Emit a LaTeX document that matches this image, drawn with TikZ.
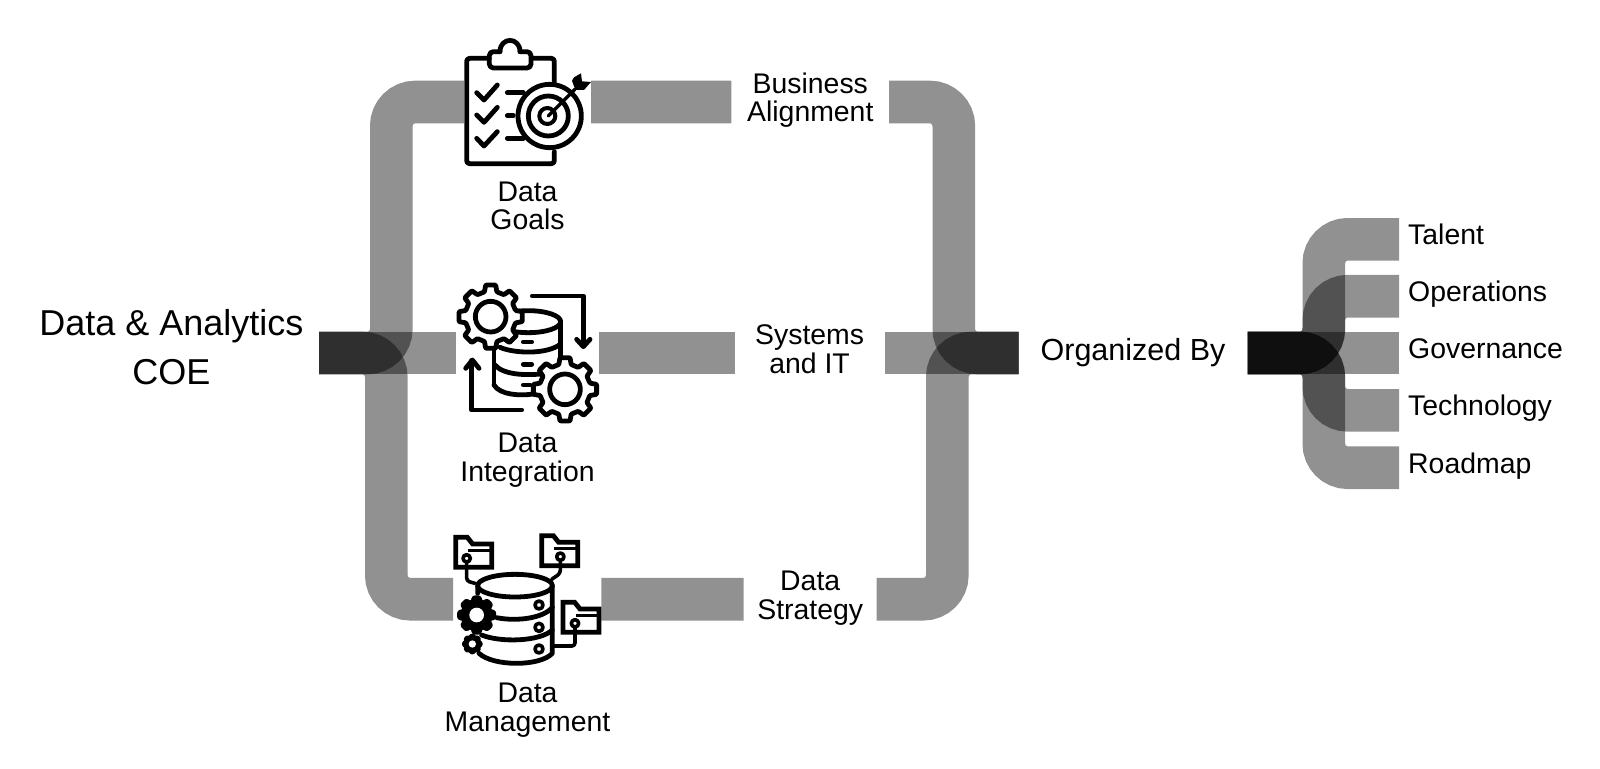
\documentclass[tikz,border=0pt]{standalone}
\usepackage{fontspec}
\setmainfont{Liberation Sans}
\tikzset{
	band/.style={line width=42.6pt,draw=black,draw opacity=.43,rounded corners=24pt},
	gapbox/.style={inner sep=0pt,minimum height=42.6pt},
	lbl/.style={inner sep=0pt,align=center,font=\fontsize{28.4}{28.6}\selectfont},
	biglbl/.style={inner sep=0pt,align=center,font=\fontsize{36}{49}\selectfont},
	sidelbl/.style={anchor=west,inner xsep=9pt,inner ysep=0pt,text height=20pt,text depth=9pt,font=\fontsize{28.4}{28.6}\selectfont},
	iconline/.style={line width=4.8pt,line cap=round,line join=round},
	zoomed/.style={x=.33333pt,y=-.33333pt},
}
\newcommand{\gearicon}[4]{%
	\begin{scope}[shift={(#1,#2)}]
	\draw[iconline,fill=#4,rounded corners=.8pt] (-14:#3*.8) \foreach \a in {0,45,...,315}{ -- (\a-14:#3*.8) -- (\a-9:#3) -- (\a+9:#3) -- (\a+14:#3*.8)} -- cycle;
	\end{scope}}
\newcommand{\foldericon}[2]{%
	\begin{scope}[shift={(#1,#2)}]
	\draw[iconline,line cap=butt,line join=miter] (317,52) -- (352,52) -- (368,72) -- (425,72) -- (425,142) -- (317,142) -- cycle;
	\draw[iconline,line width=3pt,line cap=butt] (355,90) -- (425,90);
	\end{scope}}
\begin{document}
\begin{tikzpicture}[x=1pt,y=-1pt]
	\useasboundingbox (0,0) rectangle (1600,768);
	
	\coordinate (coehub) at (319,353);
	\coordinate (coeend) at (1018.7,353);
	\coordinate (orghub) at (1247.7,353);
	\node[gapbox,minimum width=127pt]   (goalsicon) at (527.5,102) {};
	\node[gapbox,minimum width=143pt]   (integicon) at (527.5,353) {};
	\node[gapbox,minimum width=147.7pt] (manageicon) at (527.2,599.2) {};
	\node[lbl,minimum width=157.4pt] (bizalign) at (810.3,100) {Business\\Alignment};
	\node[lbl,minimum width=149.8pt] (sysit) at (809.6,349) {Systems\\and IT};
	\node[lbl,minimum width=132.6pt] (strategy) at (810.2,598) {Data\\Strategy};
	\node[biglbl] (coe) at (171.4,347) {Data \& Analytics\\COE};
	\node[lbl] (goals) at (527.5,206) {Data\\Goals};
	\node[lbl] (integ) at (527.5,460) {Data\\Integration};
	\node[lbl] (manage) at (527.5,710) {Data\\Management};
	\node[lbl,font=\fontsize{30.5}{32}\selectfont] (organized) at (1133,353) {Organized By};
	\node[sidelbl] (talent) at (1399,239.3) {Talent};
	\node[sidelbl] (operations) at (1399,296.2) {Operations};
	\node[sidelbl] (governance) at (1399,353) {Governance};
	\node[sidelbl] (technology) at (1399,410.3) {Technology};
	\node[sidelbl] (roadmap) at (1399,467.7) {Roadmap};
	
	\draw[band] (coehub) -- (391.3,353) -- (391.3,102) -- (goalsicon.west) (goalsicon.east) -- (goalsicon.east -| bizalign.west) (bizalign.east |- goalsicon) -- (953.8,102) -- (953.8,353) -- (coeend);
	\draw[band] (coehub) -- (integicon.west) (integicon.east) -- (integicon.east -| sysit.west) (sysit.east |- integicon) -- (coeend);
	\draw[band] (coehub) -- (386.3,353) -- (386.3,599.2) -- (manageicon.west) (manageicon.east) -- (manageicon.east -| strategy.west) (strategy.east |- manageicon) -- (947.3,599.2) -- (947.3,353) -- (coeend);
	
	\draw[band] (orghub) -- (1323.8,353) -- (1323.8,239.3) -- (talent.west);
	\draw[band] (orghub) -- (1323.8,353) -- (1323.8,296.2) -- (operations.west);
	\draw[band] (orghub) -- (governance.west);
	\draw[band] (orghub) -- (1323.8,353) -- (1323.8,410.3) -- (technology.west);
	\draw[band] (orghub) -- (1323.8,353) -- (1323.8,467.7) -- (roadmap.west);
	
	% goals icon
	\begin{scope}[shift={(300,20)},zoomed]
	\draw[iconline,rounded corners=3pt] (763,190) -- (763,115) -- (695,115) (568,115) -- (500,115) -- (500,431) -- (763,431) -- (763,395);
	\draw[iconline,rounded corners=4pt] (600,95) -- (568,95) -- (568,144) -- (693,144) -- (693,95) -- (660,95);
	\draw[iconline] (600,95) .. controls (600,50) and (660,50) .. (660,95);
	\draw[iconline] (530,218) -- (552,240) -- (592,195);
	\draw[iconline] (530,285) -- (552,307) -- (592,262);
	\draw[iconline] (530,355) -- (552,378) -- (592,335);
	\draw[iconline] (622,218) -- (670,218);
	\draw[iconline] (622,287) -- (640,287);
	\draw[iconline] (622,355) -- (670,355);
	\draw[iconline,fill=white] (749,288) circle (95);
	\draw[iconline] (745,288) circle (60);
	\draw[iconline,line width=4pt] (742,288) circle (24);
	\draw[iconline,line width=3.4pt] (745,288) -- (825,208);
	\fill (816,182) -- (822,172) -- (843,160) -- (846,184) -- (873,186) -- (852,210) -- (826,210) -- cycle;
	\end{scope}
	
	% integration icon
	\begin{scope}[shift={(300,270)},zoomed]
	\draw[iconline] (685,155) ellipse (97 and 33);
	\draw[iconline] (782,155) -- (782,300);
	\draw[iconline] (582,230) -- (582,345);
	\draw[iconline] (600,232) .. controls (640,250) and (740,255) .. (782,222);
	\draw[iconline] (585,285) .. controls (610,315) and (680,318) .. (740,310);
	\draw[iconline] (582,345) .. controls (600,375) and (660,378) .. (700,372);
	\draw[iconline] (670,216) -- (695,216);
	\draw[iconline] (670,283) -- (695,283);
	\draw[iconline] (670,345) -- (690,345);
	\draw[iconline] (697,78) -- (850,78) -- (850,228);
	\draw[iconline] (830,208) -- (850,230) -- (870,208);
	\draw[iconline] (665,420) -- (515,420) -- (515,272);
	\draw[iconline] (497,295) -- (517,270) -- (537,295);
	\gearicon{572}{140}{96}{white}
	\gearicon{795}{358}{96}{white}
	\draw[iconline] (572,140) circle (46);
	\draw[iconline] (795,358) circle (46);
	\end{scope}
	
	% management icon
	\begin{scope}[shift={(350,520)},zoomed]
	\draw[iconline] (383,220) -- (383,197) (607,197) -- (607,400) .. controls (570,440) and (430,440) .. (387,400);
	\draw[iconline] (495,197) ellipse (112 and 34);
	\draw[iconline] (440,293) .. controls (500,305) and (580,295) .. (607,262);
	\draw[iconline] (395,345) .. controls (450,368) and (570,365) .. (607,330);
	\draw[iconline,line width=3.6pt] (567,255) circle (12);
	\draw[iconline,line width=3.6pt] (567,322) circle (12);
	\draw[iconline,line width=3.6pt] (567,387) circle (12);
	\foldericon{0}{0}
	\foldericon{258}{-5}
	\foldericon{322}{195}
	\draw[iconline,fill=white,line width=3.6pt] (350,115) circle (11);
	\draw[iconline,fill=white,line width=3.6pt] (631,110) circle (11);
	\draw[iconline,fill=white,line width=3.6pt] (675,310) circle (11);
	\draw[iconline,line width=3.6pt,rounded corners=3pt] (350,127) -- (350,183) -- (375,190);
	\draw[iconline,line width=3.6pt,rounded corners=3pt] (631,122) -- (631,160) -- (605,178);
	\draw[iconline,line width=3.6pt,rounded corners=3pt] (675,322) -- (675,378) -- (610,378);
	\gearicon{380}{285}{52}{black}
	\fill[white] (380,285) circle (22);
	\gearicon{367}{372}{24}{black}
	\fill[white] (367,372) circle (11);
	\end{scope}
	
\end{tikzpicture}
\end{document}
